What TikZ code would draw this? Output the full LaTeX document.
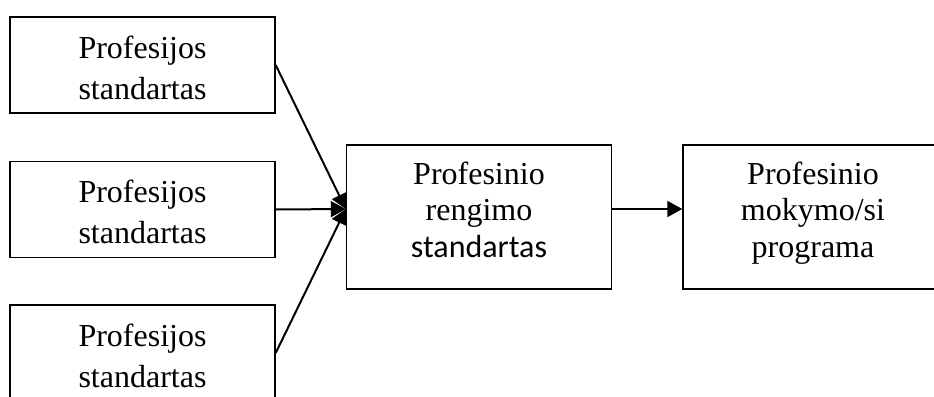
\documentclass[tikz,border=0pt]{standalone}
\usepackage{fontspec}
\setmainfont{Liberation Serif}
\newfontfamily\carlito{Carlito}
\usetikzlibrary{arrows.meta}

\begin{document}
\begin{tikzpicture}[x=0.5pt,y=-0.5pt]

  \useasboundingbox (0,0) rectangle (934,397);
  \clip (0,0) rectangle (934,397);

  % node styles
  \tikzstyle{Box}=[
  draw,
  line width=0.7pt,
  shape=rectangle,
  align=center,
  inner sep=0pt,
  minimum width=132.5pt,
  minimum height=48pt,
  text height=41pt,
  text depth=7pt,
  font=\fontsize{16}{20.5}\selectfont]

  \tikzstyle{Big}=[
  minimum height=72pt,
  text height=56pt,
  text depth=16pt,
  font=\fontsize{16}{18.25}\selectfont]

  \tikzstyle{Arrow}=[line width=1pt,-{Triangle[length=7.5pt,width=8pt]}]

  \node[Box] (S1) at (142.5, 65.0) {Profesijos\\standartas};
  \node[Box] (S2) at (142.5,209.5) {Profesijos\\standartas};
  \node[Box] (S3) at (142.5,353.0) {Profesijos\\standartas};

  \node[Box,Big] (R) at (479,217) {Profesinio\\rengimo\\{\carlito standartas}};
  \node[Box,Big,minimum width=130pt] (P) at (813,217) {Profesinio\\mokymo/si\\programa};

  \coordinate (X) at ([yshift=4pt]R.west);

  \draw[Arrow] (S1.east) -- (X);
  \draw[Arrow] (S2.east) -- (X);
  \draw[Arrow] (S3.east) -- (X);
  \draw[Arrow] ([yshift=4pt]R.east) -- ([yshift=4pt]P.west);

\end{tikzpicture}
\end{document}
